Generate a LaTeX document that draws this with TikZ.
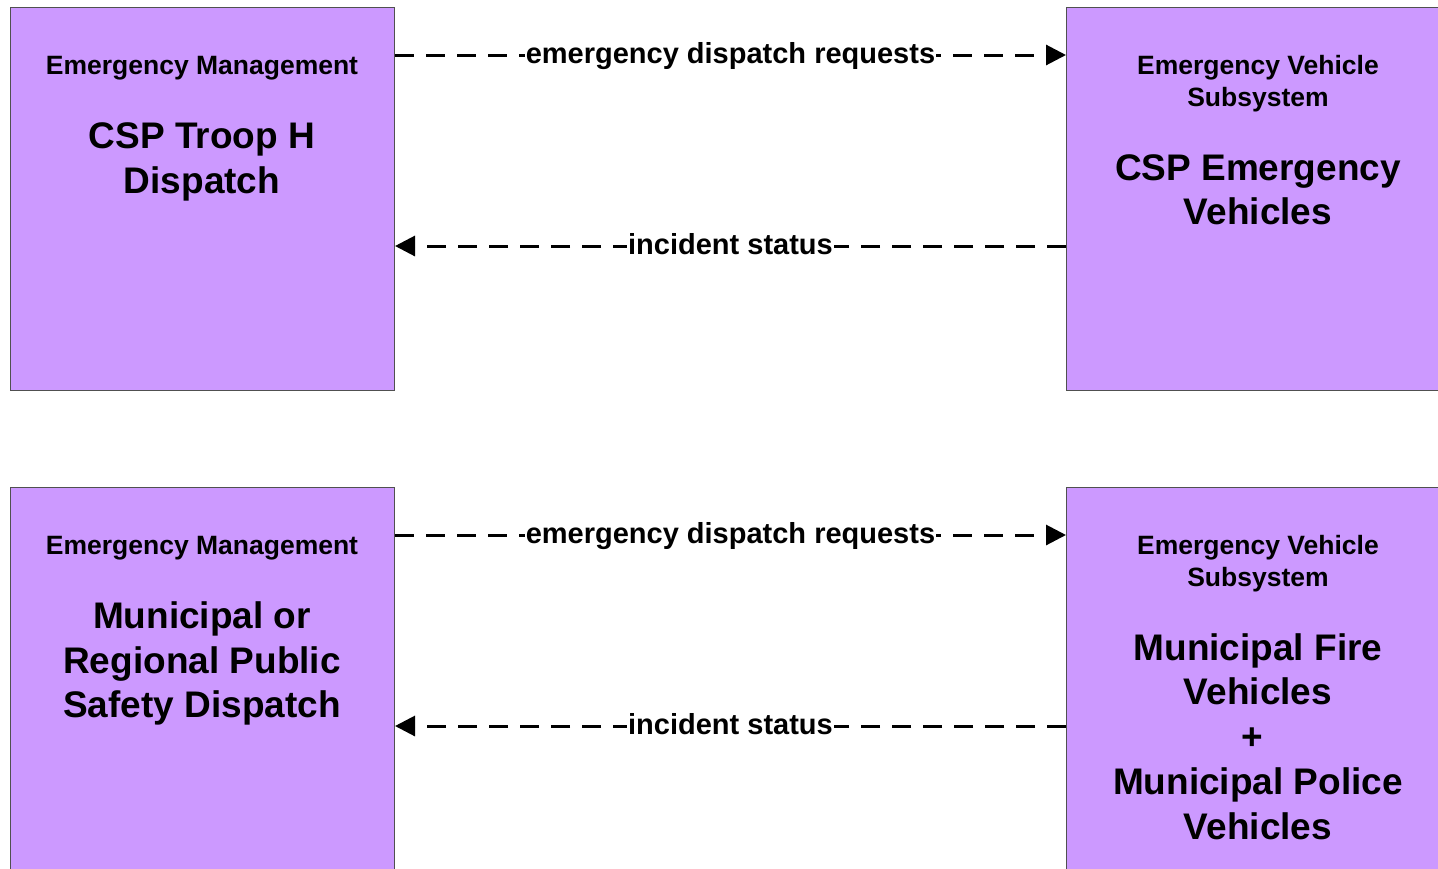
\documentclass[tikz,border=0pt]{standalone}
\usepackage{fontspec}
\setmainfont{Liberation Sans}
\usetikzlibrary{arrows.meta}
\definecolor{boxfill}{HTML}{CC99FF}
\definecolor{boxline}{HTML}{505050}
\tikzset{
  sysbox/.style={draw=boxline, line width=1pt, fill=boxfill, rectangle, minimum width=384pt, minimum height=383pt, inner sep=0pt, anchor=north west},
  hdr/.style={font=\fontsize{26.5pt}{32pt}\selectfont\bfseries, anchor=base, inner sep=0pt},
  big/.style={font=\fontsize{37pt}{45pt}\selectfont\bfseries, anchor=base, inner sep=0pt},
  flow/.style={line width=3pt, dash pattern=on 19pt off 12pt, -{Triangle[length=20pt,width=20pt]}},
  flowlbl/.style={font=\fontsize{29pt}{34pt}\selectfont\bfseries, fill=white, inner xsep=1pt, inner ysep=0pt, text height=17.4pt, text depth=0pt}
}
\begin{document}
\begin{tikzpicture}[x=1pt,y=-1pt]
\useasboundingbox (0,0) rectangle (1438,868);
\begin{scope}
\clip (0,0) rectangle (1438,868);
% boxes
\node[sysbox] (tl) at (10,7) {};
\node[sysbox] (tr) at (1066,7) {};
\node[sysbox] (bl) at (10,487) {};
\node[sysbox] (br) at (1066,487) {};
\end{scope}
% top-left text
\node[hdr] (tlh) at (202,74.5) {Emergency Management};
\node[big] (tl1) at (202,148) {CSP Troop H};
\node[big] (tl2) at (202,193) {Dispatch};
% top-right text
\node[hdr] (trh1) at (1258,74.5) {Emergency Vehicle};
\node[hdr] (trh2) at (1258,106.5) {Subsystem};
\node[big] (tr1) at (1258,180) {CSP Emergency};
\node[big] (tr2) at (1258,224) {Vehicles};
% bottom-left text
\node[hdr] (blh) at (202,554.5) {Emergency Management};
\node[big] (bl1) at (202,628) {Municipal or};
\node[big] (bl2) at (202,673) {Regional Public};
\node[big] (bl3) at (202,717) {Safety Dispatch};
% bottom-right text
\node[hdr] (brh1) at (1258,554.5) {Emergency Vehicle};
\node[hdr] (brh2) at (1258,586.5) {Subsystem};
\node[big] (br1) at (1258,660) {Municipal Fire};
\node[big] (br2) at (1258,704) {Vehicles};
\node[big] (br3) at (1252,749) {+};
\node[big] (br4) at (1258,794) {Municipal Police};
\node[big] (br5) at (1258,839) {Vehicles};
% flows
\coordinate (a1s) at (tl.north east |- 0,55);
\coordinate (a1e) at (tr.north west |- 0,55);
\coordinate (a2s) at (tr.north west |- 0,246);
\coordinate (a2e) at (tl.north east |- 0,246);
\coordinate (b1s) at (bl.north east |- 0,535);
\coordinate (b1e) at (br.north west |- 0,535);
\coordinate (b2s) at (br.north west |- 0,726);
\coordinate (b2e) at (bl.north east |- 0,726);
\draw[flow] (a1s) -- (a1e) node[flowlbl, pos=0.5] (l1) {emergency dispatch requests};
\draw[flow] (a2s) -- (a2e) node[flowlbl, pos=0.5] (l2) {incident status};
\draw[flow] (b1s) -- (b1e) node[flowlbl, pos=0.5] (l3) {emergency dispatch requests};
\draw[flow] (b2s) -- (b2e) node[flowlbl, pos=0.5] (l4) {incident status};
\end{tikzpicture}
\end{document}
